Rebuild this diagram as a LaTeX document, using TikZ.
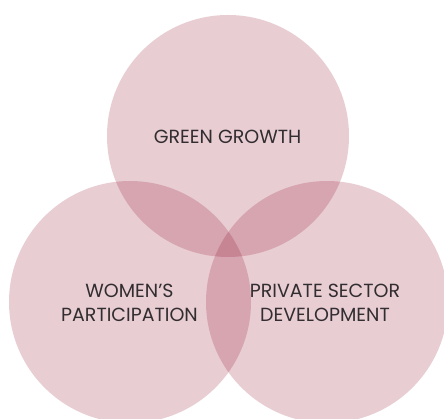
\documentclass[tikz,border=0pt]{standalone}
\usepackage{fontspec}
\setmainfont{Poppins}
\definecolor{venn}{RGB}{140,5,35}
\definecolor{txt}{RGB}{50,45,48}
\begin{document}
\begin{tikzpicture}[x=1pt,y=-1pt,
  vcircle/.style={circle,draw=none,fill=venn,fill opacity=0.2,minimum size=242pt,inner sep=0pt},
  label/.style={text=txt,font=\fontsize{19}{23.5}\selectfont,align=center,inner sep=0pt}]
\useasboundingbox (0,0) rectangle (444,419);
\clip (0,0) rectangle (444,419);
\node[vcircle] (top) at (228,136) {};
\node[vcircle] (left) at (130,302) {};
\node[vcircle] (right) at (327,302) {};
\node[label] (tg) at (227.5,137) {GREEN GROWTH};
\node[label] (tw) at (129.5,303) {WOMEN’S\\PARTICIPATION};
\node[label] (tp) at (325,303) {PRIVATE SECTOR\\DEVELOPMENT};
\end{tikzpicture}
\end{document}
